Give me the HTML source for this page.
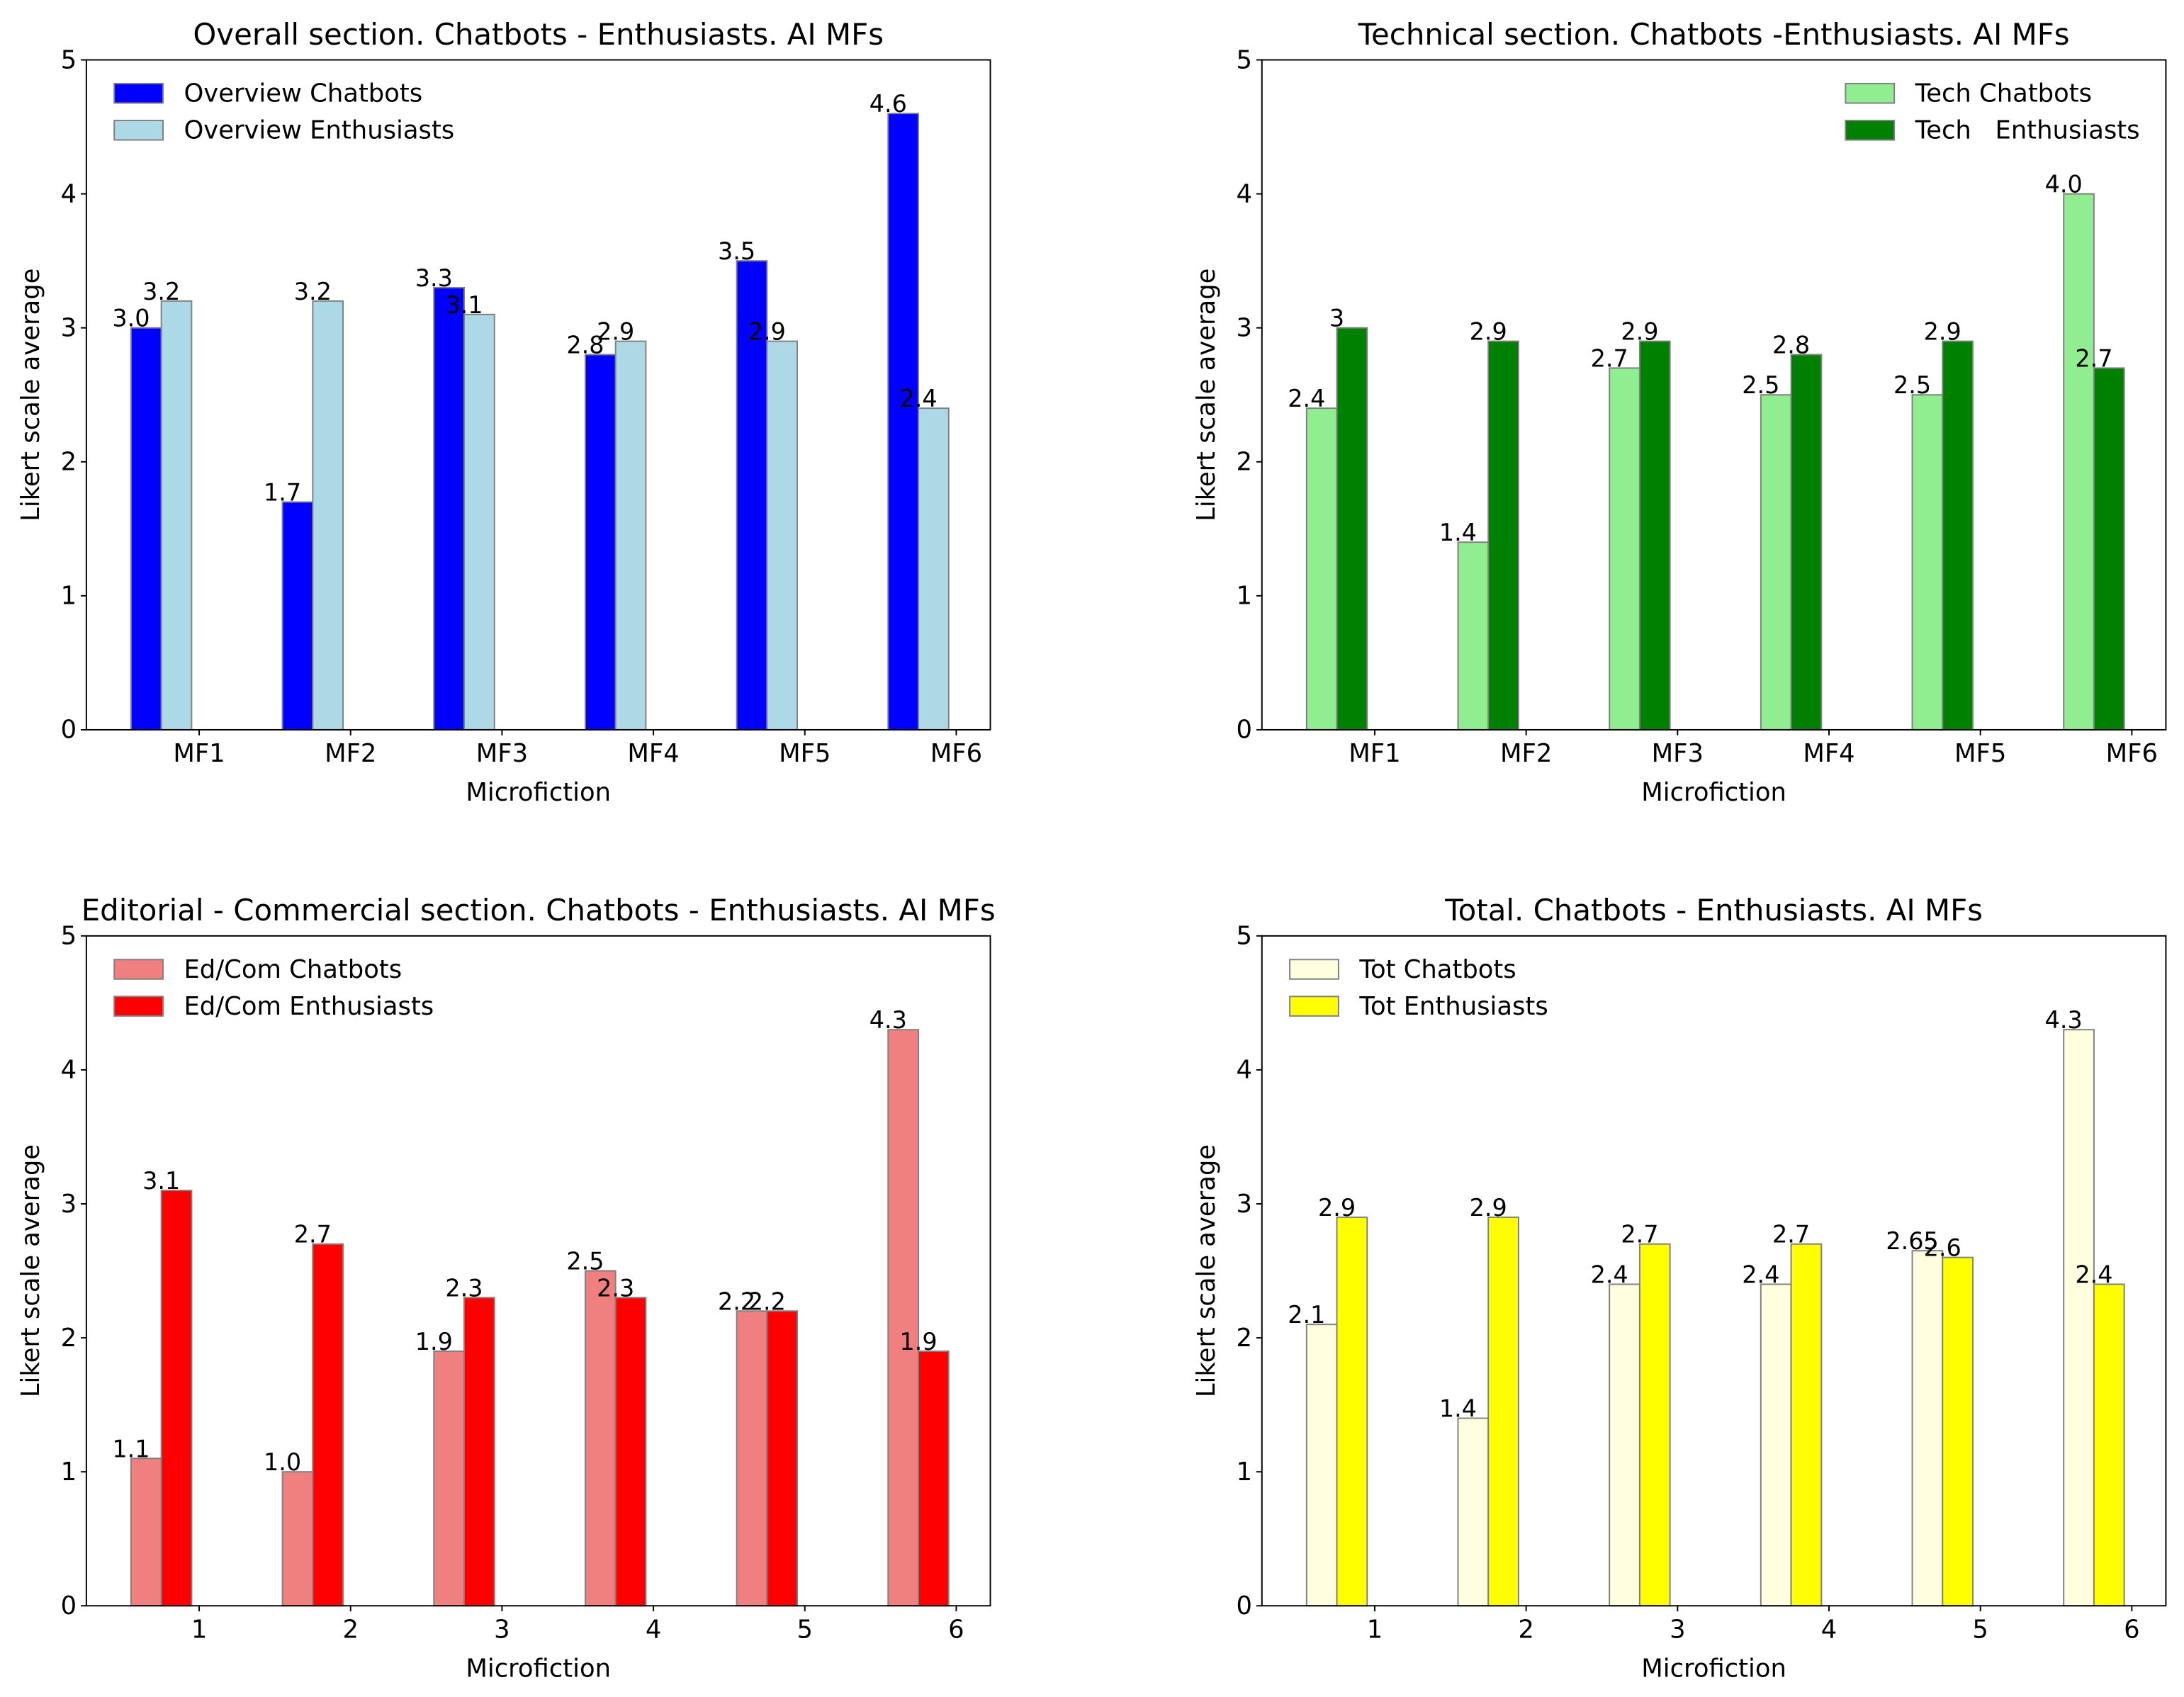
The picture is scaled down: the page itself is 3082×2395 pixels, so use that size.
<!DOCTYPE html>
<html><head><meta charset="utf-8"><style>html,body{margin:0;padding:0;background:#fff}svg{display:block}text{font-family:"DejaVu Sans","Liberation Sans",sans-serif;fill:#000;white-space:pre}</style></head>
<body>
<svg id="fig" xmlns="http://www.w3.org/2000/svg" width="3082" height="2395" viewBox="0 0 1568 1218.5"></svg>
<script>
const categories = ["MF1","MF2","MF3","MF4","MF5","MF6"];
const numCategories = ["1","2","3","4","5","6"];
const yTicks = [0,1,2,3,4,5];
const overallChat = [3.0,1.7,3.3,2.8,3.5,4.6];
const overallChatLabels = ["3.0","1.7","3.3","2.8","3.5","4.6"];
const overallEnth = [3.2,3.2,3.1,2.9,2.9,2.4];
const overallEnthLabels = ["3.2","3.2","3.1","2.9","2.9","2.4"];
const techChat = [2.4,1.4,2.7,2.5,2.5,4.0];
const techChatLabels = ["2.4","1.4","2.7","2.5","2.5","4.0"];
const techEnth = [3,2.9,2.9,2.8,2.9,2.7];
const techEnthLabels = ["3","2.9","2.9","2.8","2.9","2.7"];
const edChat = [1.1,1.0,1.9,2.5,2.2,4.3];
const edChatLabels = ["1.1","1.0","1.9","2.5","2.2","4.3"];
const edEnth = [3.1,2.7,2.3,2.3,2.2,1.9];
const edEnthLabels = ["3.1","2.7","2.3","2.3","2.2","1.9"];
const totChat = [2.1,1.4,2.4,2.4,2.65,4.3];
const totChatLabels = ["2.1","1.4","2.4","2.4","2.65","4.3"];
const totEnth = [2.9,2.9,2.7,2.7,2.6,2.4];
const totEnthLabels = ["2.9","2.9","2.7","2.7","2.6","2.4"];

const NS="http://www.w3.org/2000/svg";
const fig=document.getElementById('fig');
const FS=18, TFS=21.3;
function mk(tag,attrs,parent,txt){const e=document.createElementNS(NS,tag);for(const k in attrs)e.setAttribute(k,attrs[k]);if(txt!==undefined)e.textContent=txt;(parent||fig).appendChild(e);return e;}

function panel(cfg){
  const g=mk('g',{});
  
  
  const L=cfg.x0,R=cfg.x0+649,T=cfg.y0,B=cfg.y0+481;
  const xmin=0.255,xmax=6.225;
  const xs=v=>L+(v-xmin)/(xmax-xmin)*(R-L);
  const ys=v=>B-v/5*(B-T);
  cfg.chat.forEach((v,i)=>{
    const x=xs(i+1-0.45), w=xs(0.2)-xs(0);
    const r=mk('rect',{x:x,y:ys(v),width:w,height:ys(0)-ys(v),fill:cfg.c1,stroke:'#808080','stroke-width':1},g);
    
    
    const t=mk('text',{x:x,y:ys(v)-1,'text-anchor':'middle','font-size':17},g,cfg.chatL[i]);
    
    
  });
  cfg.enth.forEach((v,i)=>{
    const x=xs(i+1-0.25), w=xs(0.2)-xs(0);
    const r=mk('rect',{x:x,y:ys(v),width:w,height:ys(0)-ys(v),fill:cfg.c2,stroke:'#808080','stroke-width':1},g);
    
    
    const t=mk('text',{x:x,y:ys(v)-1,'text-anchor':'middle','font-size':17},g,cfg.enthL[i]);
    
    
  });
  mk('rect',{x:L,y:T,width:R-L,height:B-T,fill:'none',stroke:'#000','stroke-width':1},g);
  yTicks.forEach(v=>{
    mk('line',{x1:L-4,x2:L,y1:ys(v),y2:ys(v),stroke:'#000'},g);
    const t=mk('text',{x:L-7,y:ys(v)+6,'text-anchor':'end','font-size':FS},g,String(v));
    
    
  });
  cfg.cats.forEach((c,i)=>{
    const x=xs(i+1);
    mk('line',{x1:x,x2:x,y1:B,y2:B+4,stroke:'#000'},g);
    const t=mk('text',{x:x,y:B+23,'text-anchor':'middle','font-size':FS},g,c);
    
    
  });
  const tt=mk('text',{x:(L+R)/2,y:T-11,'text-anchor':'middle','font-size':TFS},g,cfg.title);
  
  
  const xl=mk('text',{x:(L+R)/2,y:B+51,'text-anchor':'middle','font-size':FS},g,'Microfiction');
  
  
  const yl=mk('text',{x:0,y:0,'text-anchor':'middle','font-size':FS,transform:`translate(${L-34},${(T+B)/2}) rotate(-90)`},g,'Likert scale average');
  
  
  const lx=cfg.legendRight?L+419:L+20;
  [[cfg.c1,cfg.l1],[cfg.c2,cfg.l2]].forEach((e,k)=>{
    const y=T+24+k*26.5;
    const le=mk('g',{},g);
    
    
    mk('rect',{x:lx,y:y-7,width:35,height:14,fill:e[0],stroke:'#808080'},le);
    mk('text',{x:lx+50,y:y+6,'font-size':FS},le,e[1]);
  });
}
panel({name:'overall-chart',x0:62,y0:43,chat:overallChat,enth:overallEnth,chatL:overallChatLabels,enthL:overallEnthLabels,c1:'#0000ff',c2:'#add8e6',l1:'Overview Chatbots',l2:'Overview Enthusiasts',title:'Overall section. Chatbots - Enthusiasts. AI MFs',cats:categories});
panel({name:'technical-chart',x0:906,y0:43,chat:techChat,enth:techEnth,chatL:techChatLabels,enthL:techEnthLabels,c1:'#90ee90',c2:'#008000',l1:'Tech Chatbots',l2:'Tech   Enthusiasts',title:'Technical section. Chatbots -Enthusiasts. AI MFs',cats:categories,legendRight:true});
panel({name:'editorial-chart',x0:62,y0:672,chat:edChat,enth:edEnth,chatL:edChatLabels,enthL:edEnthLabels,c1:'#f08080',c2:'#ff0000',l1:'Ed/Com Chatbots',l2:'Ed/Com Enthusiasts',title:'Editorial - Commercial section. Chatbots - Enthusiasts. AI MFs',cats:numCategories});
panel({name:'total-chart',x0:906,y0:672,chat:totChat,enth:totEnth,chatL:totChatLabels,enthL:totEnthLabels,c1:'#ffffe0',c2:'#ffff00',l1:'Tot Chatbots',l2:'Tot Enthusiasts',title:'Total. Chatbots - Enthusiasts. AI MFs',cats:numCategories});
</script>
</body></html>
